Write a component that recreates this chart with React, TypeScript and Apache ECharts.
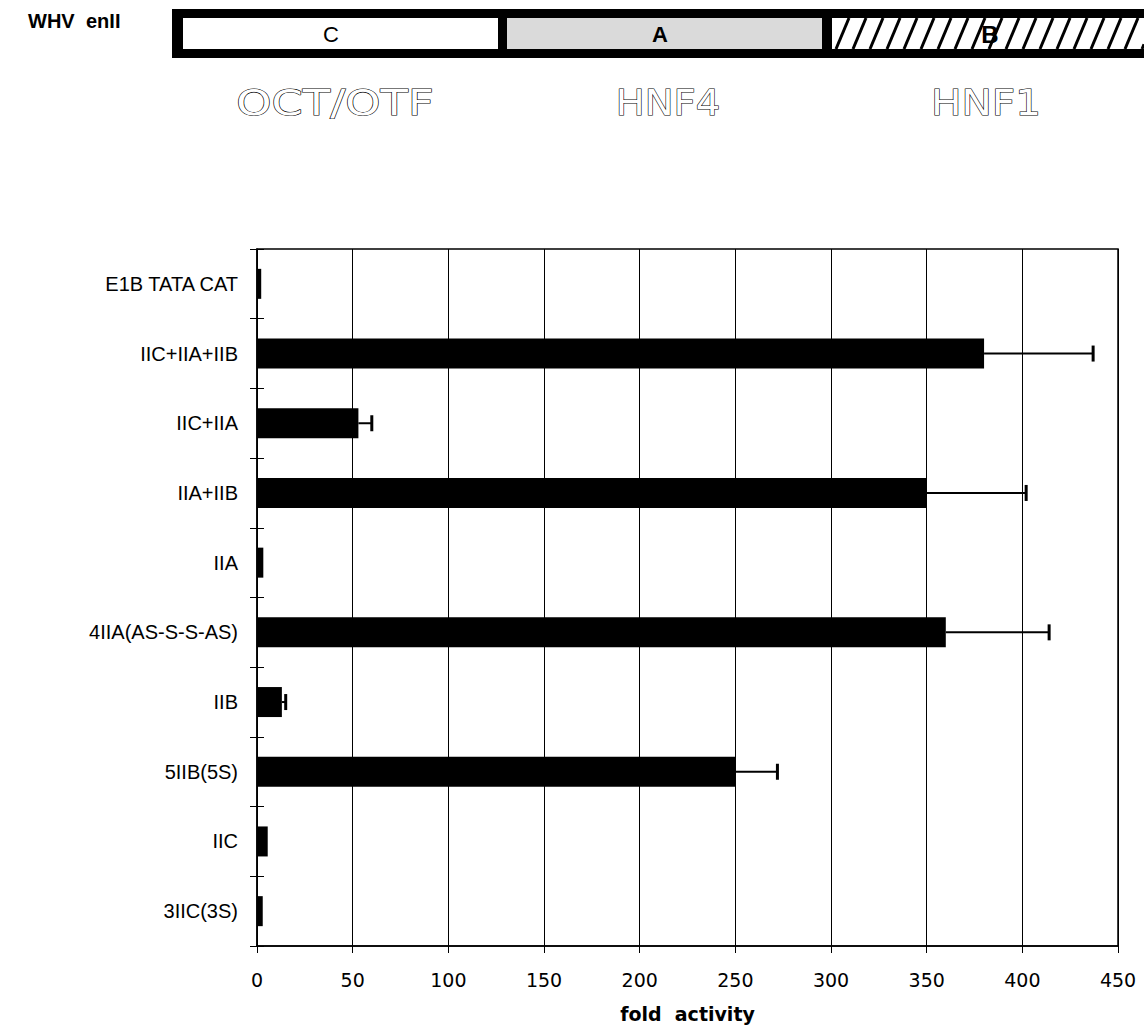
import React, { useEffect, useRef } from "react";
import * as echarts from "echarts";

const categories = [
  "E1B TATA CAT",
  "IIC+IIA+IIB",
  "IIC+IIA",
  "IIA+IIB",
  "IIA",
  "4IIA(AS-S-S-AS)",
  "IIB",
  "5IIB(5S)",
  "IIC",
  "3IIC(3S)",
];
const foldValues = [2.2, 380, 53, 350, 3.3, 360, 13, 250, 5.6, 3];
const errorUpper = [null, 437, 60, 402, null, 414, 15, 272, null, null];

const xMin = 0;
const xMax = 450;
const xInterval = 50;

const headerLabels = ["C", "A", "B"];
const bindingFactors = ["OCT/OTF", "HNF4", "HNF1"];

function hatchLines(x0: number, x1: number, y0: number, y1: number, dx: number, step: number) {
  const out: any[] = [];
  for (let xs = x0 - dx; xs < x1; xs += step) {
    let ax = xs, ay = y1, bx = xs + dx, by = y0;
    if (ax < x0) {
      const t = (x0 - ax) / dx;
      ax = x0;
      ay = y1 - t * (y1 - y0);
    }
    if (bx > x1) {
      const t = (x1 - xs) / dx;
      bx = x1;
      by = y1 - t * (y1 - y0);
    }
    if (bx <= ax) continue;
    out.push({
      type: "line",
      shape: { x1: ax, y1: ay, x2: bx, y2: by },
      style: { stroke: "#000", lineWidth: 3 },
      silent: true,
    });
  }
  return out;
}

function txt(text: string, x: number, y: number, size: number, weight: string, extra: any = {}) {
  return {
    type: "text",
    style: {
      text,
      x,
      y,
      fontSize: size,
      fontFamily: "Liberation Sans",
      fontWeight: weight,
      fill: "#000",
      textVerticalAlign: "middle",
      ...extra,
    },
  };
}

function hollow(text: string, x: number, y: number, sx: number) {
  return {
    type: "text",
    x,
    y,
    scaleX: sx,
    style: {
      text,
      x: 0,
      y: 0,
      fontSize: 35,
      fontFamily: "DejaVu Sans",
      fontWeight: "normal",
      fill: "#fff",
      stroke: "#000",
      lineWidth: 1.1,
      textAlign: "center",
      textVerticalAlign: "middle",
    },
  };
}

export default function App() {
  const ref = useRef<HTMLDivElement>(null);
  useEffect(() => {
    const chart = echarts.init(ref.current!, null, { renderer: "svg" });
    const errData = categories
      .map((_, i) => [i, foldValues[i], errorUpper[i]])
      .filter((d) => d[2] != null);

    const outerY = 9;
    const outerH = 49;
    const innerY = 18;
    const innerH = 31;
    const midY = innerY + innerH / 2 + 1;

    const graphic: any[] = [
      txt("WHV", 28, 21, 20, "bold"),
      txt("enII", 86, 21, 20, "bold"),
      { type: "rect", shape: { x: 172, y: outerY, width: 990, height: outerH }, style: { fill: "#000" } },
      { type: "rect", shape: { x: 183, y: innerY, width: 315, height: innerH }, style: { fill: "#fff" } },
      { type: "rect", shape: { x: 507, y: innerY, width: 315, height: innerH }, style: { fill: "#dadada" } },
      { type: "rect", shape: { x: 832, y: innerY, width: 330, height: innerH }, style: { fill: "#fff" } },
      ...hatchLines(832, 1144, innerY, innerY + innerH, 13, 17),
      txt(headerLabels[0], 331, midY, 22, "normal", { textAlign: "center" }),
      txt(headerLabels[1], 660, midY, 22, "bold", { textAlign: "center" }),
      txt(headerLabels[2], 990, midY, 24, "bold", { textAlign: "center" }),
      hollow(bindingFactors[0], 335, 103, 1.28),
      hollow(bindingFactors[1], 668, 103, 1.1),
      hollow(bindingFactors[2], 986, 103, 1.16),
    ];

    chart.setOption({
      animation: false,
      backgroundColor: "#fff",
      grid: {
        left: 257,
        right: 26,
        top: 249,
        bottom: 81,
        show: true,
        borderColor: "#000",
        borderWidth: 1.5,
        containLabel: false,
      },
      graphic,
      xAxis: {
        type: "value",
        min: xMin,
        max: xMax,
        interval: xInterval,
        name: "fold  activity",
        nameLocation: "middle",
        nameGap: 58,
        nameTextStyle: { fontFamily: "DejaVu Sans", fontWeight: "bold", fontSize: 19, color: "#000" },
        axisLine: { show: true, lineStyle: { color: "#000", width: 1.5 } },
        axisTick: { show: true, length: 7, lineStyle: { color: "#000", width: 1 } },
        axisLabel: { fontFamily: "DejaVu Sans", fontSize: 19, color: "#000", margin: 24 },
        splitLine: { show: true, lineStyle: { color: "#000", width: 1 } },
      },
      yAxis: [
        {
          type: "category",
          data: categories,
          inverse: true,
          position: "left",
          axisLine: { show: true, lineStyle: { color: "#000", width: 1.5 } },
          axisTick: { show: true, length: 7, lineStyle: { color: "#000", width: 1 } },
          axisLabel: { fontFamily: "Liberation Sans", fontSize: 20, color: "#000", margin: 19 },
          splitLine: { show: false },
        },
        {
          type: "category",
          data: categories,
          inverse: true,
          position: "left",
          offset: 0,
          axisLine: { show: false },
          axisTick: { show: true, inside: true, length: 7, lineStyle: { color: "#000", width: 1 } },
          axisLabel: { show: false },
          splitLine: { show: false },
        },
      ],
      series: [
        {
          type: "bar",
          data: foldValues,
          barWidth: 30,
          itemStyle: { color: "#000" },
          yAxisIndex: 0,
        },
        {
          type: "custom",
          yAxisIndex: 0,
          data: errData,
          encode: { x: [1, 2], y: 0 },
          renderItem: (params: any, api: any) => {
            const idx = api.value(0);
            const v = api.value(1);
            const e = api.value(2);
            const p0 = api.coord([v, idx]);
            const p1 = api.coord([e, idx]);
            return {
              type: "group",
              children: [
                {
                  type: "line",
                  shape: { x1: p0[0], y1: p0[1], x2: p1[0], y2: p1[1] },
                  style: { stroke: "#000", lineWidth: 2 },
                },
                {
                  type: "line",
                  shape: { x1: p1[0], y1: p1[1] - 8, x2: p1[0], y2: p1[1] + 8 },
                  style: { stroke: "#000", lineWidth: 3 },
                },
              ],
            };
          },
        },
      ],
    });
    return () => chart.dispose();
  }, []);
  return (
    <div
      ref={ref}
      style={{ position: "absolute", left: 0, top: 0, width: 1144, height: 1028, background: "#fff" }}
    />
  );
}
